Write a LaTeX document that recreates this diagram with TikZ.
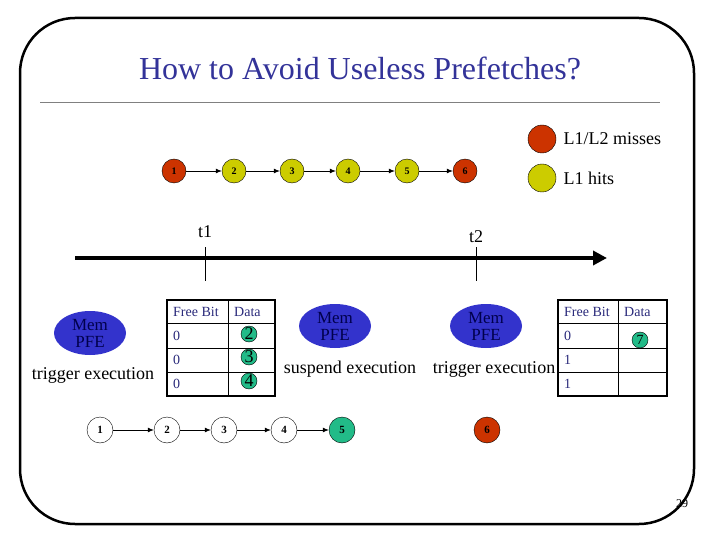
\documentclass[tikz,border=0pt]{standalone}
\usepackage{fontspec}
\setmainfont{Liberation Serif}
\usetikzlibrary{shapes.geometric,arrows.meta}
\definecolor{tblue}{HTML}{333399}
\definecolor{mred}{HTML}{CC3300}
\definecolor{hyel}{HTML}{CCCC00}
\definecolor{pfe}{HTML}{3333CC}
\definecolor{grn}{HTML}{22BB88}
\begin{document}
\begin{tikzpicture}[x=1pt,y=-1pt,
 cn/.style={circle,draw,minimum size=24pt,inner sep=0pt,font=\fontsize{10}{10}\selectfont\bfseries},
 bn/.style={circle,draw,fill=white,minimum size=26pt,inner sep=0pt,font=\fontsize{11}{11}\selectfont\bfseries},
 gd/.style={circle,draw,fill=grn,minimum size=16pt,inner sep=0pt,font=\fontsize{18}{18}\selectfont},
 pe/.style={ellipse,fill=pfe,minimum width=72pt,minimum height=44pt,inner sep=0pt,align=center,text=black!70!blue,font=\fontsize{17}{17}\selectfont},
 lab/.style={font=\fontsize{18}{18}\selectfont},
 tt/.style={font=\fontsize{14}{14}\selectfont,text=tblue!80!black,anchor=west,inner sep=0pt},
 ar/.style={-{Latex[length=6pt,width=5pt]},thick}]
\useasboundingbox (0,0) rectangle (720,540);
\draw[line width=2.5pt,rounded corners=55pt] (20,18) rectangle (694,524);
\node[text=tblue,font=\fontsize{32}{32}\selectfont] (title) at (360,68) {How to Avoid Useless Prefetches?};
\draw[gray,thick] (40,102) -- (660,102);
% top chain
\foreach \i/\x/\c in {1/174/mred,2/234/hyel,3/292/hyel,4/348/hyel,5/407/hyel,6/465/mred}
  \node[cn,fill=\c] (t\i) at (\x,171) {\i};
\foreach \a/\b in {1/2,2/3,3/4,4/5,5/6} \draw[ar] (t\a) -- (t\b);
\node[circle,draw,fill=mred,minimum size=28pt] (lm) at (542,139) {};
\node[circle,draw,fill=hyel,minimum size=28pt] (lh) at (542,178) {};
\node[lab,anchor=west] (lmt) at (560,139) {L1/L2 misses};
\node[lab,anchor=west] (lht) at (560,178) {L1 hits};
% axis
\coordinate (a0) at (75,258); \coordinate (a1) at (607,258);
\draw[line width=4pt,-{Triangle[length=14pt,width=14pt]}] (a0) -- (a1);
\draw (205,247) -- (205,281); \draw (476,247) -- (476,281);
\node[lab] (tl1) at (205,232) {t1};
\node[lab] (tl2) at (476,237) {t2};
% ellipses
\node[pe] (e1) at (90,333) {Mem\\PFE};
\node[pe] (e2) at (335,326) {Mem\\PFE};
\node[pe] (e3) at (486,326) {Mem\\PFE};
\node[lab] (s1) at (93,375) {trigger execution};
\node[lab] (s2) at (350,369) {suspend execution};
\node[lab] (s3) at (494,369) {trigger execution};
% table 1
\draw[very thick] (167,300) rectangle (275,396);
\foreach \y in {323,348,372} \draw[thick] (167,\y) -- (275,\y);
\draw[thick] (228,300) -- (228,396);
\node[tt] at (173,312) {Free Bit}; \node[tt] at (234,312) {Data};
\node[tt] at (173,336) {0}; \node[tt] at (173,360) {0}; \node[tt] at (173,384) {0};
\node[gd] (d2) at (249,334) {2}; \node[gd] (d3) at (249,357) {3}; \node[gd] (d4) at (249,381) {4};
% table 2
\draw[very thick] (558,300) rectangle (667,396);
\foreach \y in {323,348,372} \draw[thick] (558,\y) -- (667,\y);
\draw[thick] (618,300) -- (618,396);
\node[tt] at (564,312) {Free Bit}; \node[tt] at (624,312) {Data};
\node[tt] at (564,336) {0}; \node[tt] at (564,360) {1}; \node[tt] at (564,384) {1};
\node[gd,font=\fontsize{14}{14}\selectfont] (d7) at (640,340) {7};
% bottom chain
\foreach \i/\x in {1/100,2/167,3/224,4/284} \node[bn] (b\i) at (\x,430) {\i};
\node[bn,fill=grn] (b5) at (342,430) {5};
\node[bn,fill=mred] (b6) at (487,430) {6};
\foreach \a/\b in {1/2,2/3,3/4,4/5} \draw[ar] (b\a) -- (b\b);
\node[font=\fontsize{12}{12}\selectfont] (pg) at (682,504) {29};
\end{tikzpicture}
\end{document}
